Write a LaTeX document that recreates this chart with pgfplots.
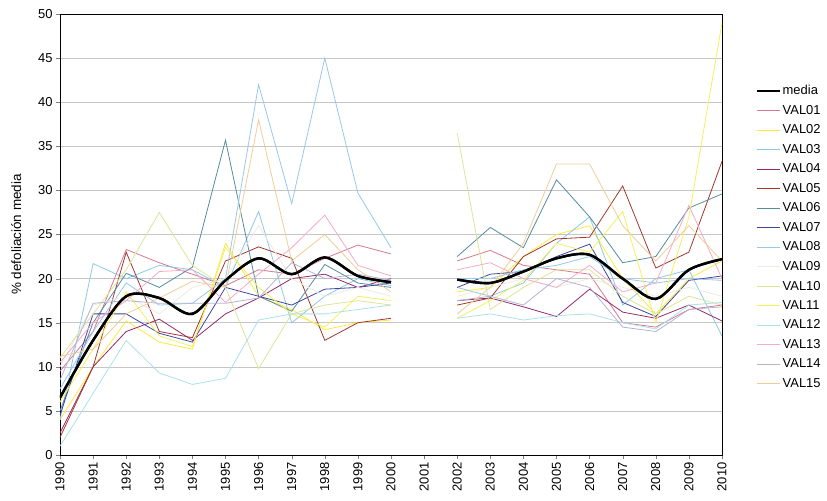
\documentclass[border=0pt]{standalone}
\usepackage{pgfplots}
\usepackage{pgfplotstable}
\pgfplotsset{compat=1.18}
\usepackage{fontspec}
\setmainfont{Liberation Sans}

% colores de las series (escaneado, tonos apagados)
\definecolor{c01}{RGB}{215,120,140}
\definecolor{c02}{RGB}{250,235,60}
\definecolor{c03}{RGB}{140,200,230}
\definecolor{c04}{RGB}{150,40,110}
\definecolor{c05}{RGB}{160,55,45}
\definecolor{c06}{RGB}{85,140,160}
\definecolor{c07}{RGB}{60,70,160}
\definecolor{c08}{RGB}{150,200,235}
\definecolor{c09}{RGB}{235,235,228}
\definecolor{c10}{RGB}{220,228,150}
\definecolor{c11}{RGB}{245,240,90}
\definecolor{c12}{RGB}{170,225,235}
\definecolor{c13}{RGB}{245,170,200}
\definecolor{c14}{RGB}{180,180,210}
\definecolor{c15}{RGB}{240,205,150}

\pgfplotstableread{
year media v01  v02  v03  v04  v05  v06  v07  v08  v09 v10  v11  v12  v13  v14  v15
1990 6.5   9.5  4    4    2.5  2    5    4.5  7.5  10  11   6    1    10.5 8.5  11.2
1991 13    14   10   21.7 10   10   15   16   14   17  16   12   7    15   17.2 12
1992 18    23.3 15.2 20   14   23   20.6 16   19.5 18  21   18.5 13   17.5 17.5 16
1993 17.8  21.8 12.8 21.5 15.4 14   19   13.8 17   16  27.5 13.5 9.3  20.8 17.2 17.8
1994 16    20.5 12   21   13   13.3 21.3 12.8 17.2 19  21.5 12.3 8    21   17.2 19.7
1995 19.8  19.2 24   19   16   22   35.7 19   20   20  19   23.5 8.7  17.3 17.2 19
1996 22.3  21   18   27.6 17.8 23.6 18   18   42   26  9.8  19   15.3 20.5 17.8 38
1997 20.5  20.5 16.5 15   20   22.3 16.3 17   28.5 20  16   16   16   23.5 21.8 22
1998 22.4  22.3 14.2 18   20.5 13   21.6 18.8 45   18  17   14.5 16   27.2 20   25
1999 20.3  23.8 15   20   19   15   19.5 19   29.7 19  17.5 18   16.5 21.5 20.5 21
2000 19.6  22.8 15.3 19.2 20   15.5 19   19.5 23.5 18  17   17.5 17   20.3 19.8 18.5
2001 nan   nan  nan  nan  nan  nan  nan  nan  nan  nan nan  nan  nan  nan  nan  nan
2002 19.9  22   18.5 19   17.5 17   22.5 19   20   18  36.5 15.5 15.5 21   17.5 16
2003 19.5  23.2 19   18   17.8 17.8 25.8 20.5 20   19  16.5 17.5 16   21.8 18   19
2004 20.8  21.5 22.5 19.5 16.8 22.5 23.5 20.8 21   20  19   19.8 15.3 20   17   24
2005 22.3  21   25   24   15.7 24.5 31.2 22.5 21.5 19  21   24   15.8 19   20   33
2006 22.7  20.5 26   27   18.8 24.7 27   23.9 22.5 20  21   23   16   21.5 19   33
2007 20    15   20   17   16.2 30.5 21.8 17.3 20   19  18   27.6 15   18.5 14.5 26
2008 17.7  14.5 16   20   15.5 21.2 22.5 15.7 19.5 18  16   15   14.3 19.5 14   22
2009 21    16.5 20   21   17   23   28   19.8 20   19  18   27   17   28.3 16.5 26
2010 22.2  17   22   13.5 15.2 33.3 29.6 20.3 19.8 18  17   49   17.3 20   16.8 22
}\datos

\begin{document}
\begin{tikzpicture}
\useasboundingbox (-60bp,-46bp) rectangle (767bp,455bp);
\begin{axis}[
  at={(0,0)}, anchor=south west,
  scale only axis,
  width=662bp, height=441bp,
  xmin=1990, xmax=2010, ymin=0, ymax=50,
  xtick={1990,...,2010}, ytick={0,5,...,50},
  /pgf/number format/1000 sep={},
  /pgf/number format/assume math mode=true,
  ticklabel style={font=\fontsize{13}{15}\selectfont},
  x tick label style={rotate=90, anchor=east},
  tick align=outside, tick pos=left,
  major tick length=4bp,
  axis line style={black, line width=1pt},
  ymajorgrids, grid style={gray!45, line width=0.6pt},
  ylabel={\% defoliación media},
  every axis y label/.style={at={(axis description cs:-0.066,0.5)}, rotate=90,
    anchor=center, font=\fontsize{13.5}{15}\selectfont},
  unbounded coords=jump,
  legend cell align=left,
  legend style={at={(1.05,0.843)}, anchor=north west, draw=none, fill=none,
    font=\fontsize{13}{15}\selectfont, row sep=5bp, inner sep=0pt},
  legend image code/.code={\draw[#1] (0bp,0bp) -- (23bp,0bp);},
  every axis plot/.append style={line width=0.8pt, mark=none},
]
\addplot[black, line width=2.4pt, smooth] table[x=year, y=media] {\datos};
\addlegendentry{media}
\addplot[c01] table[x=year, y=v01] {\datos}; \addlegendentry{VAL01}
\addplot[c02] table[x=year, y=v02] {\datos}; \addlegendentry{VAL02}
\addplot[c03] table[x=year, y=v03] {\datos}; \addlegendentry{VAL03}
\addplot[c04] table[x=year, y=v04] {\datos}; \addlegendentry{VAL04}
\addplot[c05] table[x=year, y=v05] {\datos}; \addlegendentry{VAL05}
\addplot[c06] table[x=year, y=v06] {\datos}; \addlegendentry{VAL06}
\addplot[c07] table[x=year, y=v07] {\datos}; \addlegendentry{VAL07}
\addplot[c08] table[x=year, y=v08] {\datos}; \addlegendentry{VAL08}
\addplot[c09] table[x=year, y=v09] {\datos}; \addlegendentry{VAL09}
\addplot[c10] table[x=year, y=v10] {\datos}; \addlegendentry{VAL10}
\addplot[c11] table[x=year, y=v11] {\datos}; \addlegendentry{VAL11}
\addplot[c12] table[x=year, y=v12] {\datos}; \addlegendentry{VAL12}
\addplot[c13] table[x=year, y=v13] {\datos}; \addlegendentry{VAL13}
\addplot[c14] table[x=year, y=v14] {\datos}; \addlegendentry{VAL14}
\addplot[c15] table[x=year, y=v15] {\datos}; \addlegendentry{VAL15}
% la media otra vez encima de todo
\addplot[black, line width=2.4pt, smooth, forget plot] table[x=year, y=media] {\datos};
\end{axis}
\end{tikzpicture}
\end{document}
